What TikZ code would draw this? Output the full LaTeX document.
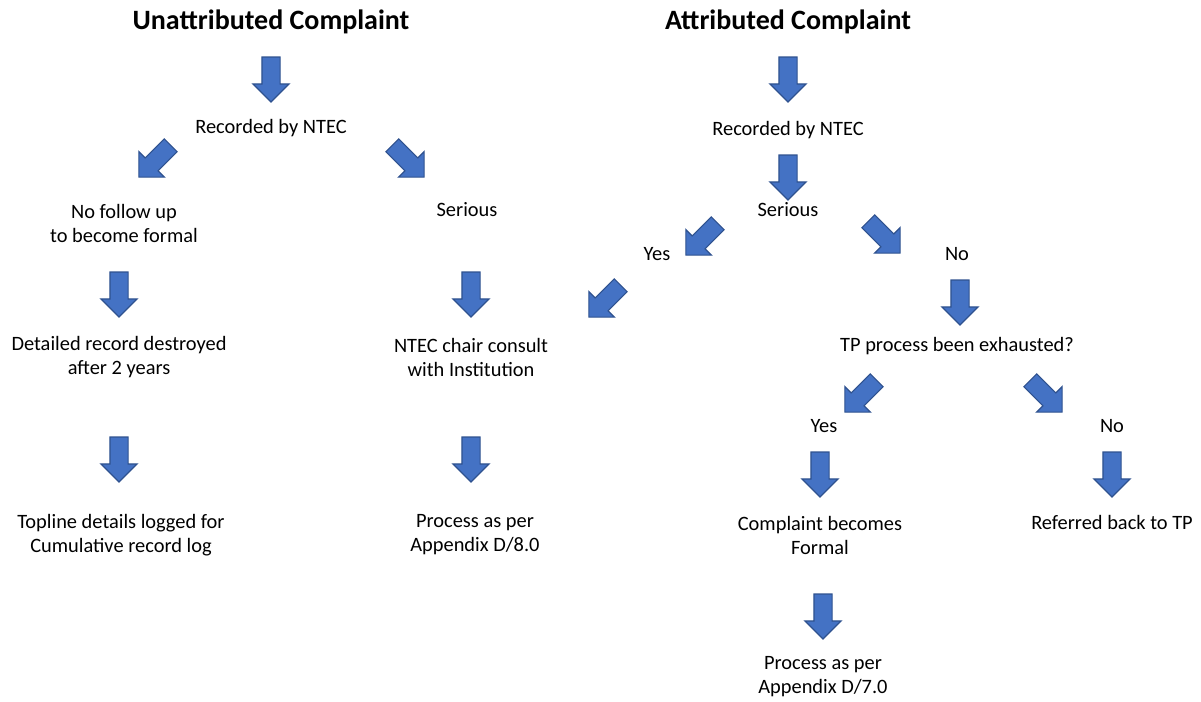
\documentclass[tikz,border=0pt]{standalone}
\usepackage{fontspec}
\setmainfont{Carlito}
\usetikzlibrary{shapes.arrows}

\definecolor{arrowblue}{HTML}{4472C4}
\definecolor{arrowedge}{HTML}{2F528F}

\tikzset{
	blockarrow/.style={single arrow, draw=arrowedge, fill=arrowblue, line width=0.6pt,
		minimum height=22.5pt, minimum width=17.5pt, single arrow head extend=4.5pt,
		inner xsep=0pt, inner ysep=4.25pt, anchor=center},
	down/.style={blockarrow, rotate=-90},
	downleft/.style={blockarrow, rotate=-135},
	downright/.style={blockarrow, rotate=-45},
	lbl/.style={align=center, font=\fontsize{10.2}{12}\selectfont, inner sep=0pt},
	heading/.style={font=\fontsize{14}{16}\selectfont\bfseries, inner sep=0pt}
}

\begin{document}
\begin{tikzpicture}[x=0.5pt, y=-0.5pt]
	\useasboundingbox (0, 0) rectangle (1201, 702);

	% Unattributed side
	\node[heading] (utitle) at (271, 22) {Unattributed Complaint};
	\node[down] (ua1) at (271, 75) {};
	\node[lbl] (urec) at (271, 128) {Recorded by NTEC};
	\node[downleft] (ua2) at (158, 158) {};
	\node[downright] (ua3) at (405, 158) {};
	\node[lbl] (unofollow) at (124, 223) {No follow up\\to become formal};
	\node[lbl] (userious) at (467, 210) {Serious};
	\node[down] (ua4) at (119, 290) {};
	\node[down] (ua5) at (471, 290) {};
	\node[lbl] (udestroy) at (119, 357) {Detailed record destroyed\\after 2 years};
	\node[lbl] (uchair) at (471, 357) {NTEC chair consult\\with Institution};
	\node[down] (ua6) at (119, 455) {};
	\node[down] (ua7) at (471, 455) {};
	\node[lbl] (utopline) at (121, 535) {Topline details logged for\\Cumulative record log};
	\node[lbl] (uprocess) at (475, 535) {Process as per\\Appendix D/8.0};

	% Attributed side
	\node[heading] (atitle) at (788, 22) {Attributed Complaint};
	\node[down] (aa1) at (788, 75) {};
	\node[lbl] (arec) at (788, 130) {Recorded by NTEC};
	\node[down] (aa2) at (788, 173) {};
	\node[lbl] (aserious) at (788, 210) {Serious};
	\node[downleft] (aa3) at (705, 236) {};
	\node[downright] (aa4) at (881, 234) {};
	\node[lbl] (ayes) at (657, 254) {Yes};
	\node[lbl] (ano) at (957, 254) {No};
	\node[downleft] (aa5) at (608, 298) {};
	\node[down] (aa6) at (960, 298) {};
	\node[lbl] (atp) at (957, 346) {TP process been exhausted?};
	\node[downleft] (aa7) at (864, 393) {};
	\node[downright] (aa8) at (1043, 393) {};
	\node[lbl] (atpyes) at (824, 426) {Yes};
	\node[lbl] (atpno) at (1112, 426) {No};
	\node[down] (aa9) at (820, 470) {};
	\node[down] (aa10) at (1112, 470) {};
	\node[lbl] (aformal) at (820, 535) {Complaint becomes\\Formal};
	\node[lbl] (areferred) at (1112, 522) {Referred back to TP};
	\node[down] (aa11) at (823, 612) {};
	\node[lbl] (aprocess) at (823, 677) {Process as per\\Appendix D/7.0};
\end{tikzpicture}
\end{document}
